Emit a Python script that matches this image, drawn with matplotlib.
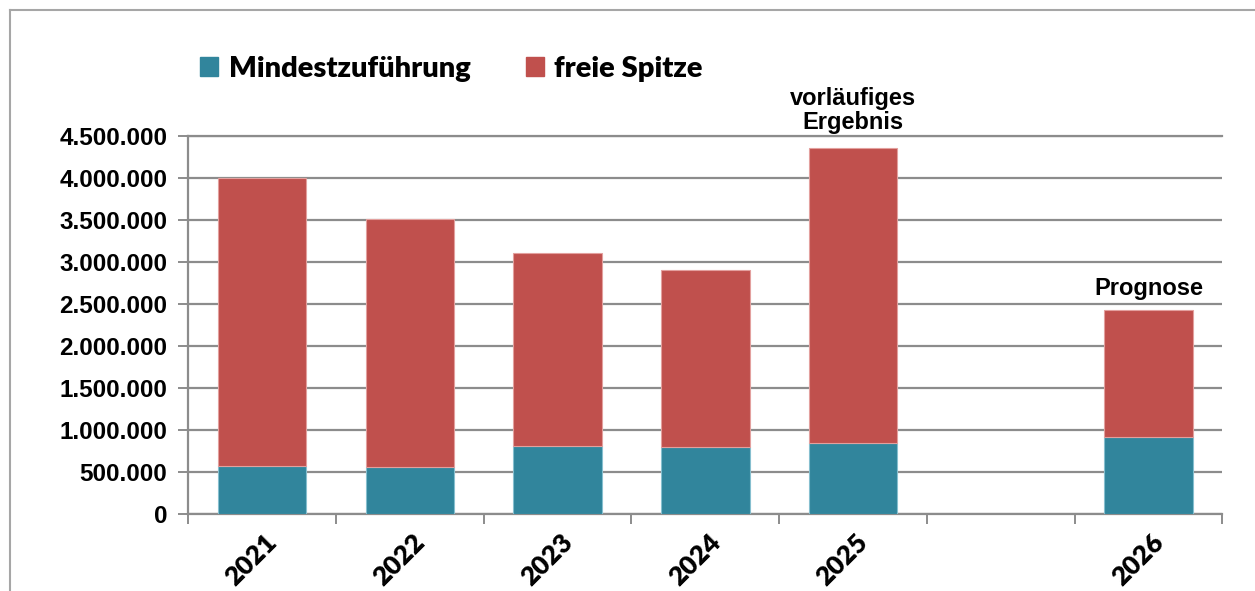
import numpy as np
import matplotlib
matplotlib.use("Agg")
import matplotlib.pyplot as plt
from matplotlib.ticker import FuncFormatter
from matplotlib.lines import Line2D
from matplotlib.patches import Patch
import matplotlib.transforms as mtransforms

categories = ["2021", "2022", "2023", "2024", "2025", "", "2026"]
mindest = [580000, 567000, 810000, 800000, 847000, np.nan, 917000]
freie = [3420000, 2943000, 2300000, 2108000, 3513000, np.nan, 1508000]
series_names = ["Mindestzuführung", "freie Spitze"]
annotations = [(4, "vorläufiges\nErgebnis"), (6, "Prognose")]

TEAL = "#31859C"
RED = "#C0504D"
GRID = "#8c8c8c"

fig = plt.figure(figsize=(12.55, 5.91), dpi=100)
ax = fig.add_axes([188.3 / 1255, 76.7 / 591, 1034 / 1255, 378.3 / 591])

x = np.arange(len(categories))
mind = np.array(mindest, dtype=float)
fr = np.array(freie, dtype=float)
ax.bar(x, mind, width=0.6, color=TEAL, edgecolor="#86bfcf", linewidth=0.8, zorder=3)
ax.bar(x, fr, width=0.6, bottom=mind, color=RED, edgecolor="#e3a09e", linewidth=0.8, zorder=3)

ax.set_xlim(-0.5, len(categories) - 0.5)
ax.set_ylim(0, 4500000)
ax.set_yticks(np.arange(0, 4500001, 500000))
ax.yaxis.set_major_formatter(FuncFormatter(lambda v, p: f"{int(v):,}".replace(",", ".")))
ax.grid(axis="y", color=GRID, linewidth=1.6, zorder=0)
ax.set_axisbelow(True)

for s in ["right"]:
    ax.spines[s].set_visible(False)
for s in ["left", "bottom", "top"]:
    ax.spines[s].set_color(GRID)
    ax.spines[s].set_linewidth(1.6)

ax.tick_params(axis="y", which="major", direction="out", length=7, width=1.4, color=GRID, pad=8)
for lab in ax.get_yticklabels():
    lab.set_fontfamily("Liberation Sans")
    lab.set_fontweight("bold")
    lab.set_fontsize(17.5)

ax.set_xticks(np.arange(-0.5, len(categories), 1.0))
ax.set_xticklabels([""] * (len(categories) + 1))
ax.tick_params(axis="x", which="major", direction="out", length=7, width=1.4, color=GRID)
ax.set_xticks(x, minor=True)
ax.set_xticklabels(categories, minor=True, rotation=45, ha="right", va="center",
                   rotation_mode="anchor", fontfamily="Lato", fontweight="heavy", fontsize=19)
ax.tick_params(axis="x", which="minor", length=0, pad=0)
offset = mtransforms.ScaledTranslation(11 / 100, -24 / 100, fig.dpi_scale_trans)
for lab in ax.get_xticklabels(minor=True):
    lab.set_transform(lab.get_transform() + offset)

# annotations
ann_y = {4: 4800000, 6: 2690000}
for xi, txt in annotations:
    ax.text(xi, ann_y[xi], txt, ha="center", va="center", fontfamily="Liberation Sans",
            fontweight="bold", fontsize=17, linespacing=1.05, clip_on=False, zorder=5)

handles = [Patch(facecolor=TEAL, edgecolor=TEAL), Patch(facecolor=RED, edgecolor=RED)]
leg = fig.legend(handles, series_names, loc="center left",
                 bbox_to_anchor=(174 / 1255, 1 - 69 / 591), ncol=2, frameon=False,
                 handlelength=0.62, handleheight=0.62, handletextpad=0.35, columnspacing=1.9,
                 prop={"family": "Lato", "weight": "heavy", "size": 21})

# chart area border
bc = "#a6a6a6"
fig.add_artist(Line2D([10 / 1255, 10 / 1255], [0, 1 - 10 / 591], color=bc, lw=1.5))
fig.add_artist(Line2D([10 / 1255, 1], [1 - 10 / 591, 1 - 10 / 591], color=bc, lw=1.5))

fig.savefig("out.png", dpi=100, facecolor="white")
